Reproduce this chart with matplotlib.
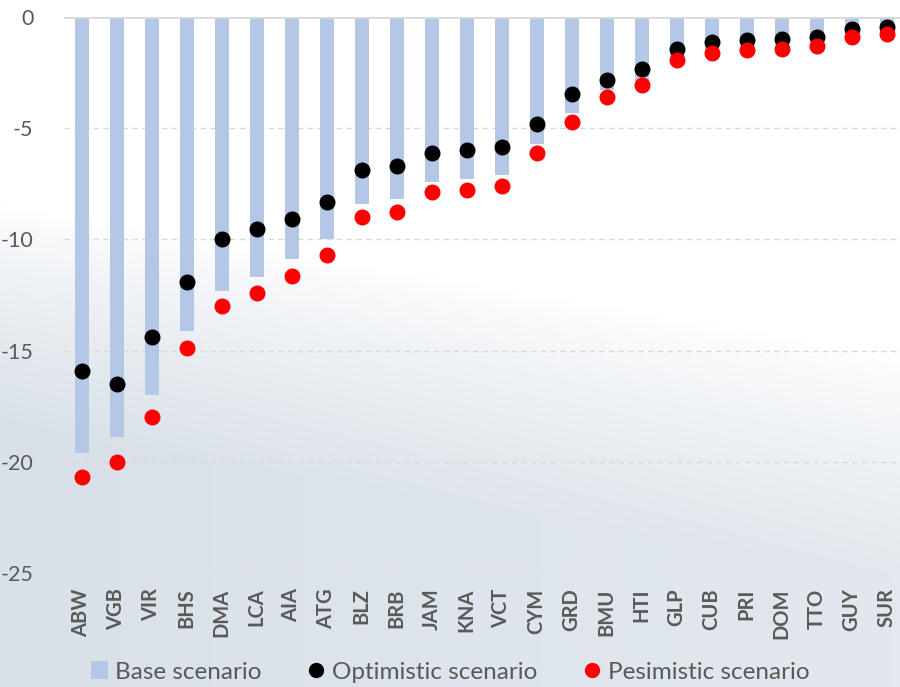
import numpy as np
import matplotlib
matplotlib.use("Agg")
import matplotlib.pyplot as plt
from matplotlib.lines import Line2D
from matplotlib.patches import Patch

countries = ["ABW", "VGB", "VIR", "BHS", "DMA", "LCA", "AIA", "ATG", "BLZ", "BRB",
             "JAM", "KNA", "VCT", "CYM", "GRD", "BMU", "HTI", "GLP", "CUB", "PRI",
             "DOM", "TTO", "GUY", "SUR"]
base = [-19.6, -18.9, -17.0, -14.1, -12.3, -11.7, -10.9, -10.0, -8.4, -8.2,
        -7.4, -7.3, -7.1, -5.7, -4.3, -3.3, -2.9, -1.8, -1.5, -1.3,
        -1.25, -1.1, -0.7, -0.6]
optimistic = [-15.9, -16.5, -14.4, -11.9, -10.0, -9.55, -9.1, -8.3, -6.9, -6.7,
              -6.1, -5.97, -5.83, -4.83, -3.45, -2.84, -2.36, -1.42, -1.13, -1.04,
              -0.98, -0.89, -0.52, -0.44]
pessimistic = [-20.7, -20.0, -18.0, -14.9, -13.0, -12.4, -11.65, -10.7, -8.98, -8.77,
               -7.89, -7.77, -7.59, -6.1, -4.7, -3.6, -3.08, -1.94, -1.64, -1.49,
               -1.46, -1.31, -0.89, -0.77]
yticks = [0, -5, -10, -15, -20, -25]

GRAY = "#595959"
plt.rcParams["font.family"] = ["Lato", "DejaVu Sans"]

fig = plt.figure(figsize=(9, 6.87), dpi=100)

# soft grey-blue wash behind the chart, stronger towards the lower left
bg = fig.add_axes([0, 0, 1, 1], zorder=0)
h, w = 200, 260
yy, xx = np.mgrid[0:h, 0:w]
yy = yy / (h - 1)
xx = xx / (w - 1)
start = 0.30 + 0.22 * xx
shade = np.clip((yy - start) / 0.32, 0, 1) ** 0.75
shade *= 1 - 0.25 * xx
top = np.array([1.0, 1.0, 1.0])
low = np.array([0.85, 0.88, 0.91])
img = top + shade[..., None] * (low - top)
bg.imshow(img, aspect="auto", extent=[0, 1, 1, 0], interpolation="bilinear")
bg.set_xlim(0, 1)
bg.set_ylim(1, 0)
bg.axis("off")

ax = fig.add_axes([64 / 900, 1 - 573 / 687, 840 / 900, 556 / 687], zorder=1)
ax.patch.set_alpha(0)
x = np.arange(len(countries))

ax.bar(x, base, width=0.4, color="#b4c7e7", zorder=2)
ax.plot(x, optimistic, "o", color="black", markersize=10.5, zorder=3)
ax.plot(x, pessimistic, "o", color="#ff0000", markersize=10.5, zorder=4)

ax.set_xlim(-0.5, len(countries) - 0.5)
ax.set_ylim(-25, 0)
ax.set_yticks(yticks)
ax.set_yticklabels([str(t) for t in yticks], color=GRAY, fontsize=15.5)
ax.yaxis.grid(True, linestyle=(0, (4, 3)), color="#d9d9d9", linewidth=1.0, zorder=1)
ax.axhline(0, color="#d9d9d9", linewidth=2, zorder=5)
ax.set_xticks(x)
ax.set_xticklabels(countries, rotation=90, fontsize=14.5, fontweight="bold", color=GRAY)
ax.tick_params(axis="both", length=0)
ax.tick_params(axis="y", pad=22)
ax.tick_params(axis="x", pad=11)
for s in ax.spines.values():
    s.set_visible(False)

handles = [
    Patch(facecolor="#b4c7e7", edgecolor="none"),
    Line2D([], [], marker="o", linestyle="none", color="black", markersize=10),
    Line2D([], [], marker="o", linestyle="none", color="#ff0000", markersize=10),
]
labels = ["Base scenario", "Optimistic scenario", "Pesimistic scenario"]
fig.legend(handles, labels, loc="center", bbox_to_anchor=(0.5, 1 - 672 / 687),
           ncol=3, frameon=False, fontsize=17.5, labelcolor=GRAY,
           handlelength=0.7, handletextpad=0.3, columnspacing=1.9)

fig.savefig("out.png", dpi=100)
